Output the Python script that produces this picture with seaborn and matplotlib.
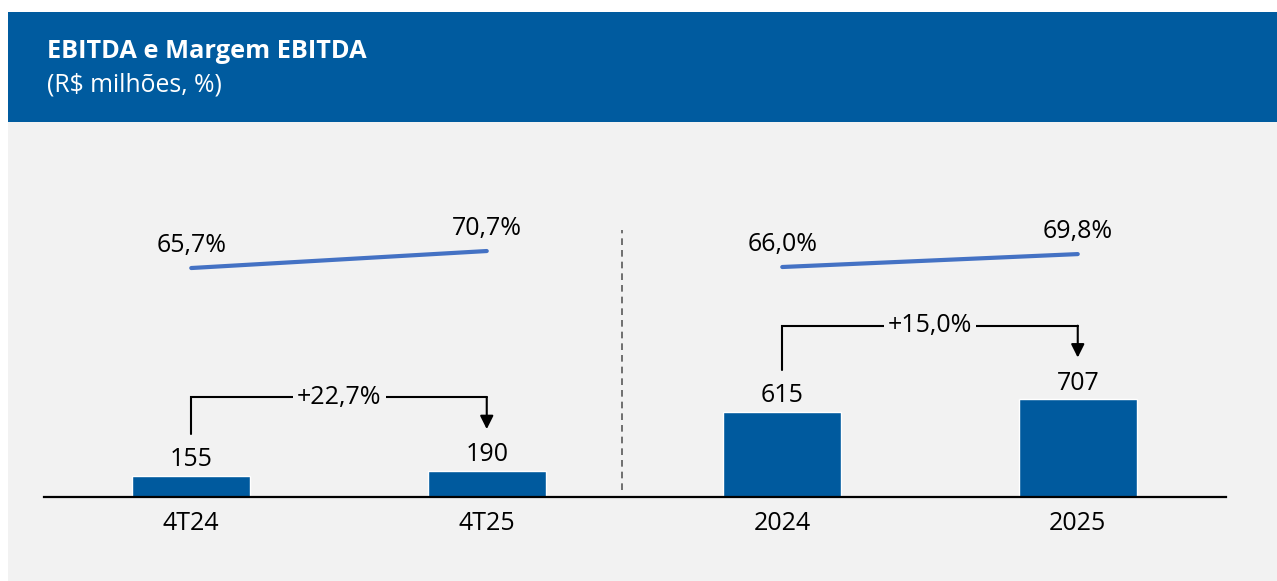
import pandas as pd
import matplotlib.pyplot as plt
import seaborn as sns
from matplotlib.patches import Rectangle

# Dados do gráfico
periodos = ['4T24', '4T25', '2024', '2025']
ebitda = [155, 190, 615, 707]
margem = [65.7, 70.7, 66.0, 69.8]
margem_txt = ['65,7%', '70,7%', '66,0%', '69,8%']
grupos = ['tri', 'tri', 'ano', 'ano']
variacao = ['+22,7%', '+15,0%']

AZUL = '#005a9e'
AZUL_LINHA = '#4472c4'
CINZA = '#f2f2f2'
FS = 18

sns.set_theme(style='white')
plt.rcParams['font.family'] = ['Open Sans', 'DejaVu Sans']

df = pd.DataFrame({'periodo': periodos, 'ebitda': ebitda, 'margem': margem,
                   'grupo': grupos, 'pos': range(len(periodos))})

W, H = 1277, 581
fig = plt.figure(figsize=(W / 100, H / 100), dpi=100, facecolor='white')

# fundo cinza e faixa azul do título
fig.patches.append(Rectangle((8 / W, 0), 1 - 8 / W, (H - 122) / H, transform=fig.transFigure,
                             facecolor=CINZA, edgecolor='none', zorder=-2))
fig.patches.append(Rectangle((8 / W, (H - 122) / H), 1 - 8 / W, 110 / H, transform=fig.transFigure,
                             facecolor='#005b9f', edgecolor='none', zorder=-2))
fig.text(47 / W, 1 - 52 / H, 'EBITDA e Margem EBITDA', color='white', fontsize=18.3,
         fontweight='bold', va='center', ha='left')
fig.text(47 / W, 1 - 85 / H, '(R$ milhões, %)', color='white', fontsize=17.8,
         va='center', ha='left')

# eixo principal (barras)
ax = fig.add_axes([43.5 / W, (H - 497) / H, 1182 / W, 367 / H])
ax.set_facecolor('none')
sns.barplot(data=df, x='periodo', y='ebitda', color=AZUL, width=0.4, saturation=1, ax=ax)
ax.set_xlim(-0.5, 3.5)
ax.set_ylim(0, 2650)
ax.set_xlabel('')
ax.set_ylabel('')
ax.set_yticks([])
ax.tick_params(axis='x', length=0, pad=10, labelsize=FS, colors='black')
for s in ['top', 'left', 'right']:
    ax.spines[s].set_visible(False)
ax.spines['bottom'].set_color('black')
ax.spines['bottom'].set_linewidth(1.6)

for i, v in enumerate(ebitda):
    ax.annotate(str(v), (i, v), xytext=(0, 16), textcoords='offset pixels',
                ha='center', va='center', fontsize=FS, color='black')

# setas de variação
for k, (a, b) in enumerate([(0, 1), (2, 3)]):
    topo = max(ebitda[a], ebitda[b]) + 530
    ax.plot([a, a, b], [ebitda[a] + 300, topo, topo], color='black', lw=1.5,
            solid_joinstyle='miter', zorder=3)
    ax.annotate('', xy=(b, ebitda[b] + 300), xytext=(b, topo),
                arrowprops=dict(arrowstyle='-|>', mutation_scale=20, color='black',
                                lw=1.5, shrinkA=0, shrinkB=0), zorder=3)
    ax.text((a + b) / 2, topo, variacao[k], ha='center', va='center', fontsize=FS,
            color='black', zorder=4,
            bbox=dict(facecolor=CINZA, edgecolor='none', pad=3))

# linha divisória
ax.plot([1.458, 1.458], [50, 1926], color='#595959', lw=1.2, ls=(0, (4, 3)))

# eixo secundário (margem)
ax2 = ax.twinx()
ax2.set_ylim(-1.65, 106.3)
ax2.set_axis_off()
sns.lineplot(data=df, x='pos', y='margem', units='grupo', estimator=None,
             color=AZUL_LINHA, lw=3, ax=ax2)
ax2.set_xlim(-0.5, 3.5)
for i, m in enumerate(margem):
    ax2.annotate(margem_txt[i], (i, m), xytext=(0, 23), textcoords='offset pixels',
                 ha='center', va='center', fontsize=FS, color='black')

fig.savefig('out.png', dpi=100)
